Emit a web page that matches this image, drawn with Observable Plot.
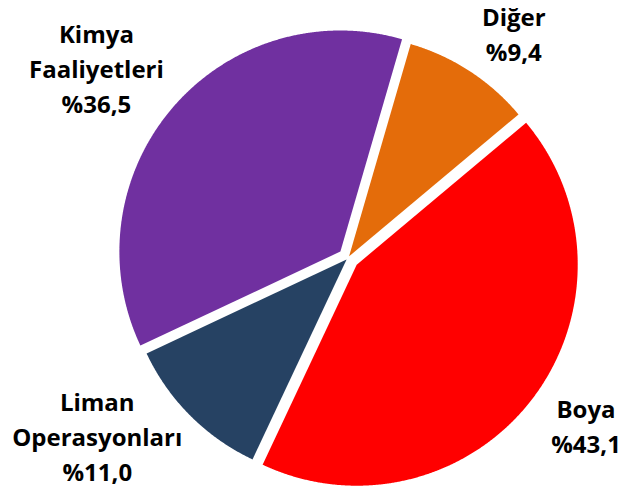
<!DOCTYPE html>
<html>
<head>
<meta charset="utf-8">
<script src="https://cdn.jsdelivr.net/npm/d3@7"></script>
<script src="https://cdn.jsdelivr.net/npm/@observablehq/plot@0.6"></script>
<style>
  html, body { margin: 0; padding: 0; background: #ffffff; }
  #chart svg { display: block; }
</style>
</head>
<body>
<div id="chart"></div>
<script>
// ---- data (clockwise from the start angle) ----
const categories = ["Diğer", "Boya", "Liman Operasyonları", "Kimya Faaliyetleri"];
const shares = [9.4, 43.1, 11.0, 36.5];
const colors = ["#E46C0A", "#FF0000", "#264263", "#7030A0"];

// ---- layout ----
const W = 627, H = 494;
const cx = 347.5, cy = 257.5;        // pie centre in pixels
const R = 221;                        // pie radius
const startDeg = 16.2;                // first slice starts here (clockwise from 12 o'clock)
const explode = [2, 11, 2, 10];       // per-slice explosion
const labelRadius = 298;
const labelNudge = [[3, 24], [2, -16], [-40, -34], [-25, 2]];

const pie = d3.pie().sort(null).value(d => d)
  .startAngle(startDeg * Math.PI / 180)
  .endAngle(startDeg * Math.PI / 180 + 2 * Math.PI);
const arcs = pie(shares);

// slice outlines (sampled along the arc) in centre-relative coordinates, y downwards
const slicePts = [];
arcs.forEach((a, i) => {
  const mid = (a.startAngle + a.endAngle) / 2;
  const ox = explode[i] * Math.sin(mid), oy = -explode[i] * Math.cos(mid);
  slicePts.push({cat: categories[i], x: ox, y: oy});
  const n = Math.max(2, Math.ceil((a.endAngle - a.startAngle) / (0.25 * Math.PI / 180)));
  for (let k = 0; k <= n; k++) {
    const t = a.startAngle + (a.endAngle - a.startAngle) * k / n;
    slicePts.push({cat: categories[i], x: ox + R * Math.sin(t), y: oy - R * Math.cos(t)});
  }
});

const fmt = v => "%" + d3.format(".1f")(v).replace(".", ",");
const labels = arcs.map((a, i) => {
  const mid = (a.startAngle + a.endAngle) / 2;
  return {
    x: labelRadius * Math.sin(mid) + labelNudge[i][0],
    y: -labelRadius * Math.cos(mid) + labelNudge[i][1],
    text: categories[i].split(" ").join("\n") + "\n" + fmt(shares[i])
  };
});

const chart = Plot.plot({
  width: W,
  height: H,
  margin: 0,
  style: {background: "#ffffff", fontFamily: "'Open Sans', sans-serif"},
  x: {domain: [-cx, W - cx], range: [0, W], axis: null},
  y: {domain: [-cy, H - cy], range: [0, H], axis: null},
  color: {domain: categories, range: colors},
  marks: [
    Plot.line(slicePts, {x: "x", y: "y", z: "cat", fill: "cat", stroke: "none", curve: "linear-closed"}),
    Plot.text(labels, {
      x: "x", y: "y", text: "text",
      fontSize: 24, fontWeight: "bold", fontFamily: "'Open Sans', sans-serif",
      lineHeight: 35 / 24, fill: "#000000", textAnchor: "middle"
    })
  ]
});
document.getElementById("chart").appendChild(chart);
</script>
</body>
</html>
